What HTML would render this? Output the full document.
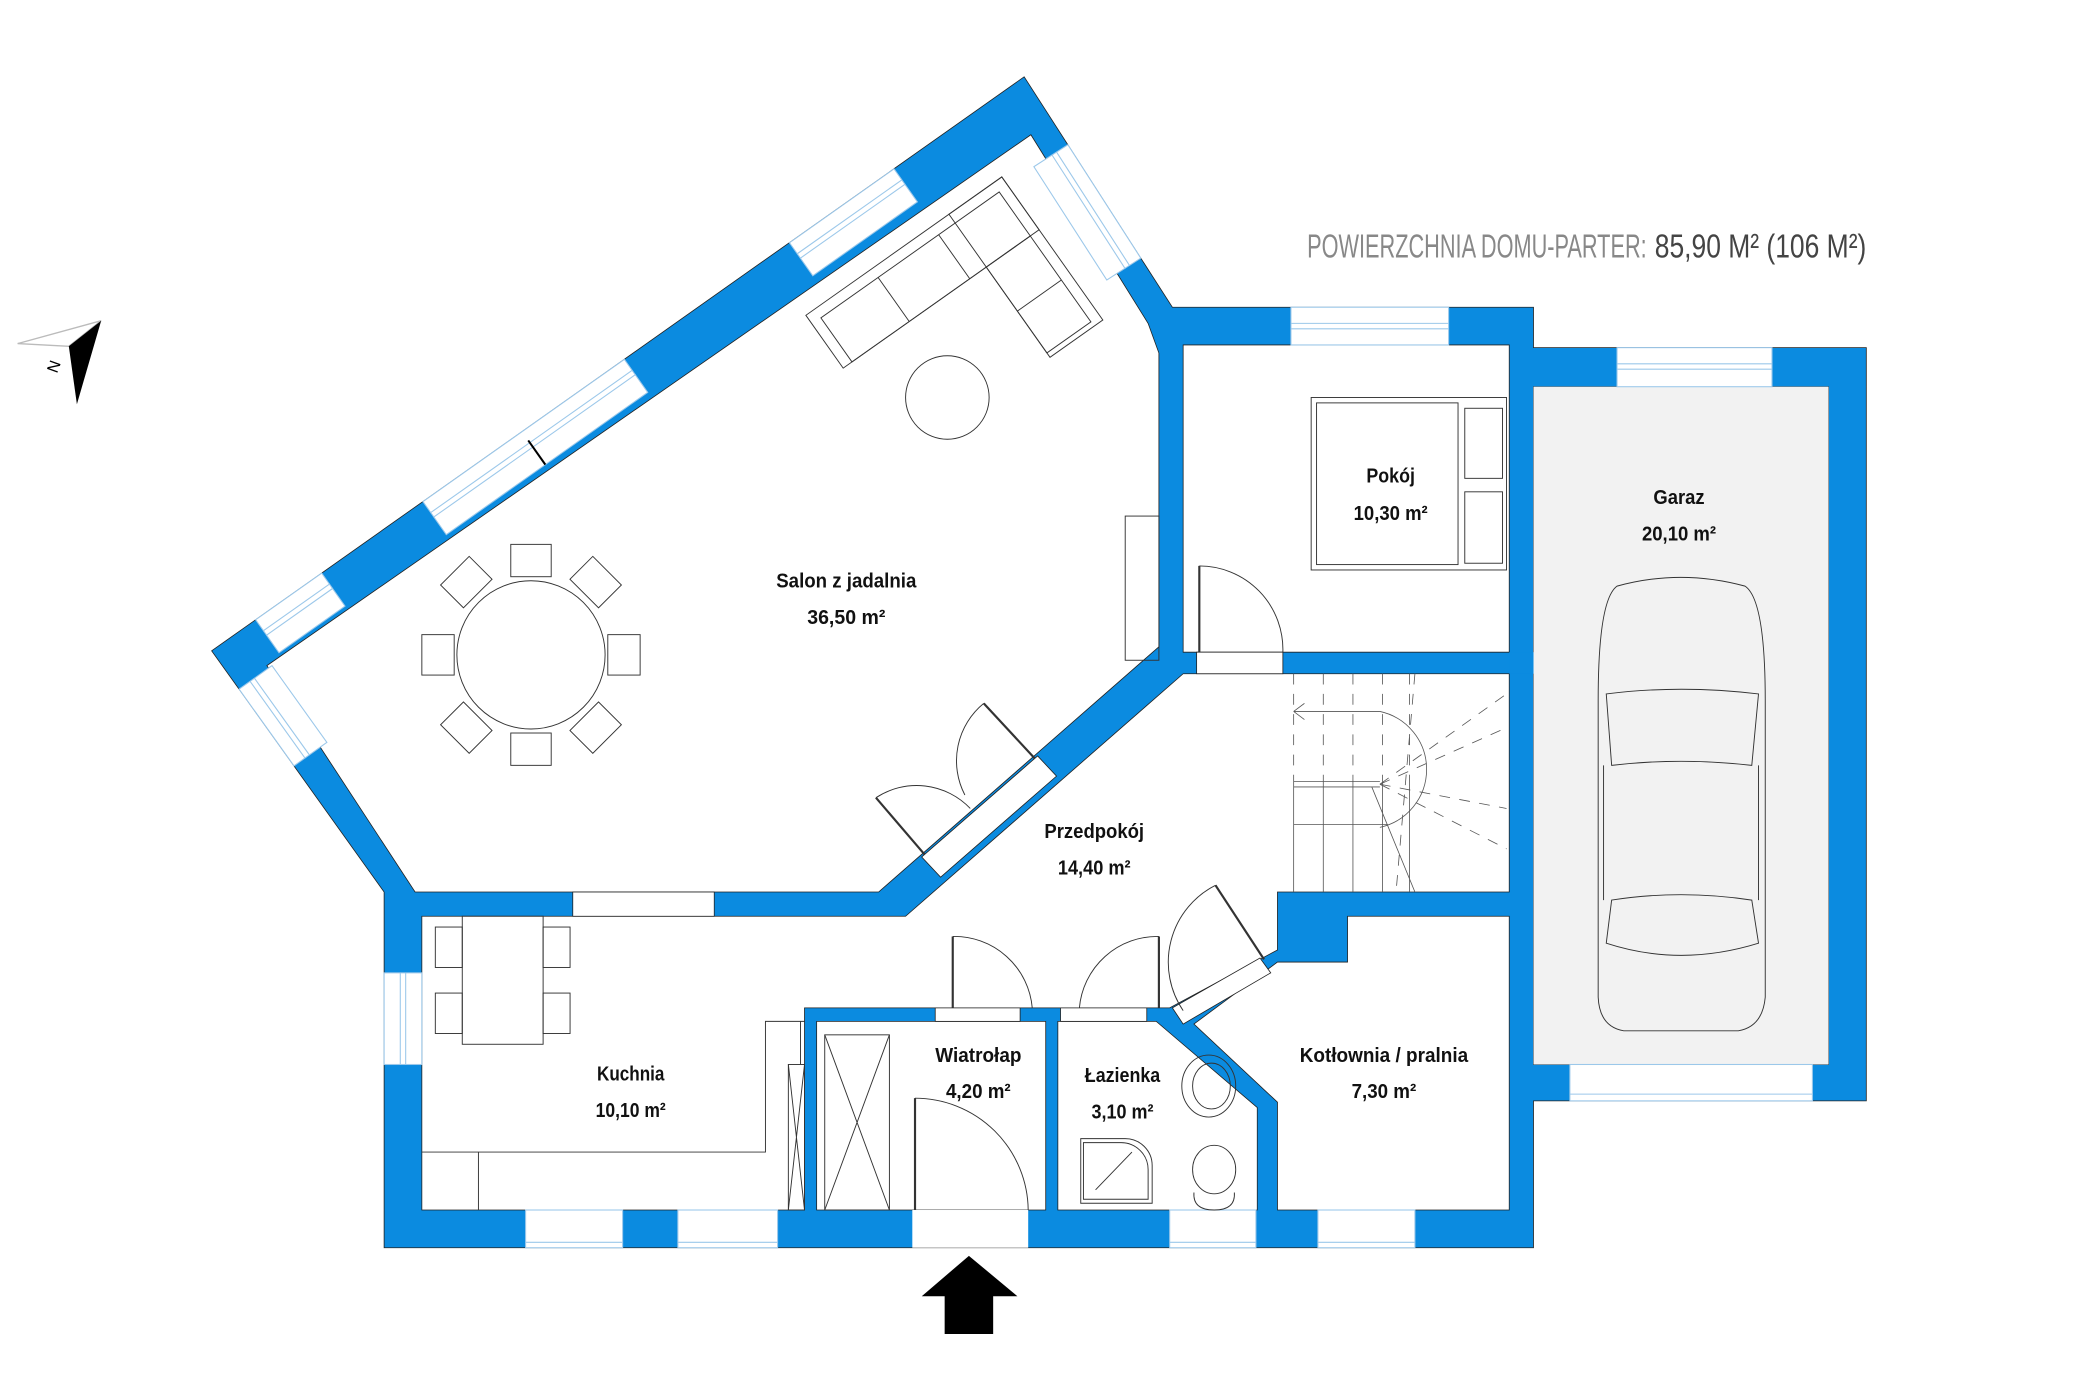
<!DOCTYPE html>
<html><head><meta charset="utf-8"><style>
html,body{margin:0;padding:0;background:#fff;}
svg{display:block;}
.l{font-family:"Liberation Sans",sans-serif;font-weight:bold;font-size:15px;fill:#111;text-anchor:middle;}
</style></head><body>
<svg width="2082" height="1400" viewBox="0 0 1545 1039" xmlns="http://www.w3.org/2000/svg">
<rect width="1545" height="1039" fill="#fff"/>
<rect x="1138" y="287" width="219" height="503" fill="#f2f2f2"/>
<path fill="#0b8be0" fill-rule="evenodd" stroke="#222" stroke-width="0.6" d="
M157,483 L760,57 L870,228 L1138,228 L1138,258 L1385,258 L1385,817 L1138,817 L1138,926 L285,926 L285,662 Z
M198,494 L765,100 L852,240 L860,262 L860,480 L652,662 L308,662 Z
M878,256 L1120,256 L1120,484 L878,484 Z
M878,500 L1120,500 L1120,662 L948,662 L948,705 L868,748 L597,748 L597,898 L313,898 L313,680 L672,680 Z
M606,758 L776,758 L776,898 L606,898 Z
M785,758 L858,758 L933,822 L933,898 L785,898 Z
M948,714 L1000,714 L1000,680 L1120,680 L1120,898 L948,898 L948,818 L886,760 Z
M1138,287 L1357,287 L1357,790 L1138,790 Z"/>
<rect x="1138" y="287" width="219" height="503" fill="#f2f2f2"/>
<rect x="1120" y="484" width="18" height="16" fill="#0b8be0"/>

<g fill="#fff" stroke="#9cc8ea" stroke-width="0.8">
<rect x="958" y="228" width="117" height="28"/><line x1="958" y1="240" x2="1075" y2="240"/><line x1="958" y1="244" x2="1075" y2="244"/>
<rect x="1200" y="258" width="115" height="29"/><line x1="1200" y1="270" x2="1315" y2="270"/><line x1="1200" y1="274" x2="1315" y2="274"/>
<rect x="1165" y="790" width="180" height="27"/><line x1="1165" y1="812" x2="1345" y2="812"/>
<rect x="285" y="722" width="28" height="68"/><line x1="297" y1="722" x2="297" y2="790"/><line x1="301" y1="722" x2="301" y2="790"/>
<rect x="390" y="898" width="72" height="28"/><line x1="390" y1="922" x2="462" y2="922"/>
<rect x="503" y="898" width="74" height="28"/><line x1="503" y1="922" x2="577" y2="922"/>
<rect x="868" y="898" width="64" height="28"/><line x1="868" y1="922" x2="932" y2="922"/>
<rect x="978" y="898" width="72" height="28"/><line x1="978" y1="922" x2="1050" y2="922"/>
</g>
<rect x="425" y="662" width="105" height="18" fill="#fff" stroke="#222" stroke-width="0.6"/>
<g transform="translate(157,483) rotate(-35.23)" fill="#fff" stroke="#9cc8ea" stroke-width="0.8">
<rect x="40" y="0" width="60" height="30"/><line x1="40" y1="10" x2="100" y2="10"/><line x1="40" y1="14" x2="100" y2="14"/>
<rect x="192" y="0" width="183" height="30"/><line x1="192" y1="10" x2="375" y2="10"/><line x1="192" y1="14" x2="375" y2="14"/>
<line x1="282" y1="8" x2="282" y2="30" stroke="#000" stroke-width="1.5"/>
<rect x="525" y="0" width="95" height="30"/><line x1="525" y1="10" x2="620" y2="10"/><line x1="525" y1="14" x2="620" y2="14"/>
</g>
<g transform="translate(760,57) rotate(57.25)" fill="#fff" stroke="#9cc8ea" stroke-width="0.8">
<rect x="60" y="0" width="100" height="30"/><line x1="60" y1="10" x2="160" y2="10"/><line x1="60" y1="14" x2="160" y2="14"/>
</g>
<g transform="translate(157,483) rotate(54.4)" fill="#fff" stroke="#9cc8ea" stroke-width="0.8">
<rect x="35" y="-30" width="70" height="30"/><line x1="35" y1="-10" x2="105" y2="-10"/><line x1="35" y1="-14" x2="105" y2="-14"/>
</g>

<g fill="#fff" stroke="#222" stroke-width="0.6">
<rect x="677" y="898" width="86" height="28" stroke="none"/>
<rect x="694" y="748" width="63" height="10"/>
<rect x="787" y="748" width="64" height="10"/>
<rect x="888" y="484" width="64" height="16"/>
<polygon points="684,636 770,561 784,576 698,651"/>
<polygon points="870,748 935,711 943,722 878,760"/>
</g>
<g fill="none" stroke="#333" stroke-width="0.7">
<line x1="679" y1="898" x2="679" y2="815" stroke-width="1.6"/><path d="M679,815 A84,84 0 0 1 763,898"/>
<line x1="707" y1="748" x2="707" y2="695" stroke-width="1.6"/><path d="M707,695 A58,58 0 0 1 766,748"/>
<line x1="860" y1="748" x2="860" y2="695" stroke-width="1.6"/><path d="M860,695 A58,58 0 0 0 801,748"/>
<line x1="890" y1="484" x2="890" y2="420" stroke-width="1.6"/><path d="M890,420 A62,62 0 0 1 952,484"/>
<line x1="938" y1="712" x2="902" y2="657" stroke-width="1.6"/><path d="M902,657 A64,64 0 0 0 878,750"/>
<line x1="686" y1="634" x2="650" y2="592" stroke-width="1.6"/><path d="M650,592 A55,55 0 0 1 720,600"/>
<line x1="768" y1="563" x2="730" y2="522" stroke-width="1.6"/><path d="M730,522 A55,55 0 0 0 716,590"/>
</g>

<g fill="none" stroke="#333" stroke-width="0.7">
<g transform="translate(598,234) rotate(-35.23)">
<rect x="0" y="0" width="178" height="48"/><rect x="8" y="8" width="162" height="40"/>
<line x1="60" y1="8" x2="60" y2="48"/><line x1="115" y1="8" x2="115" y2="48"/>
<rect x="130" y="0" width="48" height="130"/><rect x="130" y="48" width="40" height="78"/><line x1="130" y1="88" x2="170" y2="88"/>
</g>
<circle cx="703" cy="295" r="31"/>
<rect x="835" y="383" width="25" height="107"/>
<circle cx="394" cy="486" r="55"/>
<rect x="379" y="404" width="30" height="24"/><rect x="379" y="544" width="30" height="24"/>
<rect x="313" y="471" width="24" height="30"/><rect x="451" y="471" width="24" height="30"/>
<rect x="-15" y="-12" width="30" height="24" transform="translate(346,432) rotate(-45)"/>
<rect x="-15" y="-12" width="30" height="24" transform="translate(442,432) rotate(45)"/>
<rect x="-15" y="-12" width="30" height="24" transform="translate(346,540) rotate(45)"/>
<rect x="-15" y="-12" width="30" height="24" transform="translate(442,540) rotate(-45)"/>
<rect x="343" y="680" width="60" height="95" fill="#fff"/>
<rect x="323" y="688" width="20" height="30"/><rect x="323" y="737" width="20" height="30"/>
<rect x="403" y="688" width="20" height="30"/><rect x="403" y="737" width="20" height="30"/>
<polyline points="313,855 568,855 568,758 597,758"/>
<line x1="355" y1="855" x2="355" y2="898"/>
<rect x="585" y="790" width="12" height="108"/><path d="M585,790 L597,898 M597,790 L585,898"/>
<line x1="594" y1="758" x2="594" y2="790"/>
<rect x="612" y="768" width="48" height="130"/><path d="M612,768 L660,898 M660,768 L612,898"/>
<rect x="973" y="295" width="145" height="128"/><rect x="977" y="299" width="105" height="120"/>
<rect x="1087" y="303" width="28" height="52"/><rect x="1087" y="365" width="28" height="53"/>
<ellipse cx="897" cy="806" rx="20" ry="23"/><ellipse cx="899" cy="806" rx="14" ry="17"/>
<ellipse cx="901" cy="868" rx="16" ry="18"/><path d="M886,885 Q885,898 901,898 Q917,898 916,885"/>
<path d="M802,845 L835,845 A20,20 0 0 1 855,865 L855,893 L802,893 Z"/>
<path d="M804,848 L832,848 A20,20 0 0 1 852,868 L852,890 L804,890 Z"/>
<line x1="813" y1="883" x2="840" y2="855"/>
<path d="M1200,435 Q1247,422 1295,435 Q1310,445 1310,520 L1310,740 Q1308,762 1290,765 L1205,765 Q1187,762 1186,740 L1186,520 Q1186,445 1200,435 Z"/>
<path d="M1192,515 Q1247,508 1305,515 L1300,568 Q1247,562 1196,568 Z"/>
<path d="M1196,668 Q1247,660 1300,668 L1305,700 Q1247,718 1192,700 Z"/>
<line x1="1190" y1="568" x2="1190" y2="668"/><line x1="1305" y1="568" x2="1305" y2="668"/>
<g stroke="#555" stroke-width="0.6">
<path d="M960,580 L960,662 M982,580 L982,662 M1004,580 L1004,662 M1026,580 L1026,662 M1046,580 L1046,662 M960,580 L1024,580 M960,584 L1024,584 M960,612 L1030,612 M1018,584 L1050,662"/>
<path stroke-dasharray="8,7" d="M960,500 L960,580 M982,500 L982,580 M1004,500 L1004,580 M1026,500 L1026,580 M1046,500 L1046,580 M1050,500 L1036,662 M1024,582 L1118,540 M1024,582 L1118,515 M1024,582 L1118,600 M1024,582 L1118,630"/>
<path d="M1024,528 L960,528 M960,528 L968,522 M960,528 L968,534 M1024,528 A44,44 0 0 1 1024,614"/>
</g>
</g>

<polygon points="684,962 719,932 755,962 737,962 737,990 701,990 701,962" fill="#000"/>
<polygon points="75,238 13,255 51,257" fill="#fff" stroke="#bbb" stroke-width="1"/>
<polygon points="75,238 51,257 57,300" fill="#000"/>
<text x="40" y="276" font-family="Liberation Sans,sans-serif" font-size="12" transform="rotate(-70 40 272)" text-anchor="middle">N</text>

<text x="970" y="191" font-family="Liberation Sans,sans-serif" font-size="25" fill="#888" textLength="252" lengthAdjust="spacingAndGlyphs">POWIERZCHNIA DOMU-PARTER:</text>
<text x="1228" y="191" font-family="Liberation Sans,sans-serif" font-size="25" fill="#444" textLength="157" lengthAdjust="spacingAndGlyphs">85,90 M² (106 M²)</text>

<text class="l" x="628" y="436" textLength="104" lengthAdjust="spacingAndGlyphs">Salon z jadalnia</text>
<text class="l" x="628" y="463" textLength="58" lengthAdjust="spacingAndGlyphs">36,50 m²</text>
<text class="l" x="1032" y="358" textLength="36" lengthAdjust="spacingAndGlyphs">Pokój</text>
<text class="l" x="1032" y="386" textLength="55" lengthAdjust="spacingAndGlyphs">10,30 m²</text>
<text class="l" x="1246" y="374" textLength="38" lengthAdjust="spacingAndGlyphs">Garaz</text>
<text class="l" x="1246" y="401" textLength="55" lengthAdjust="spacingAndGlyphs">20,10 m²</text>
<text class="l" x="812" y="622" textLength="74" lengthAdjust="spacingAndGlyphs">Przedpokój</text>
<text class="l" x="812" y="649" textLength="54" lengthAdjust="spacingAndGlyphs">14,40 m²</text>
<text class="l" x="468" y="802" textLength="50" lengthAdjust="spacingAndGlyphs">Kuchnia</text>
<text class="l" x="468" y="829" textLength="52" lengthAdjust="spacingAndGlyphs">10,10 m²</text>
<text class="l" x="726" y="788" textLength="64" lengthAdjust="spacingAndGlyphs">Wiatrołap</text>
<text class="l" x="726" y="815" textLength="48" lengthAdjust="spacingAndGlyphs">4,20 m²</text>
<text class="l" x="833" y="803" textLength="56" lengthAdjust="spacingAndGlyphs">Łazienka</text>
<text class="l" x="833" y="830" textLength="46" lengthAdjust="spacingAndGlyphs">3,10 m²</text>
<text class="l" x="1027" y="788" textLength="125" lengthAdjust="spacingAndGlyphs">Kotłownia / pralnia</text>
<text class="l" x="1027" y="815" textLength="48" lengthAdjust="spacingAndGlyphs">7,30 m²</text>
</svg>
</body></html>
